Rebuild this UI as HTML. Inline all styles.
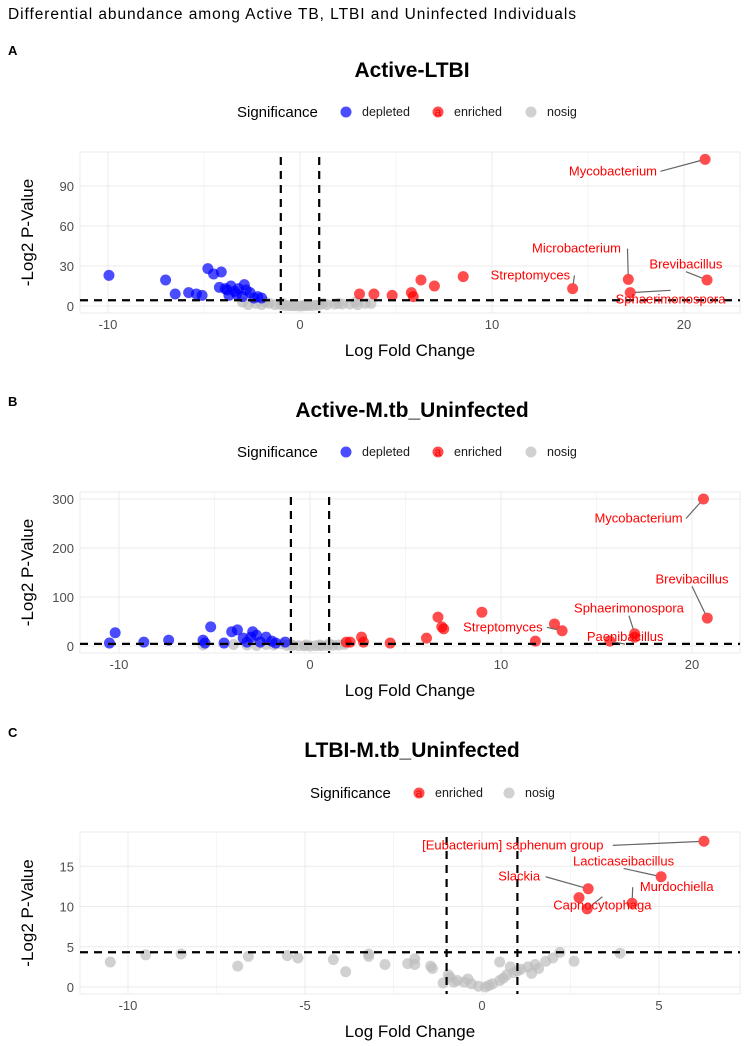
<!DOCTYPE html>
<html><head><meta charset="utf-8"><style>
html,body{margin:0;padding:0;background:#fff;}
svg{display:block;font-family:"Liberation Sans",Arial,sans-serif;}
</style></head><body>
<svg id="fig" width="748" height="1046" viewBox="0 0 748 1046" xmlns="http://www.w3.org/2000/svg">
<text x="8" y="19" font-size="15.5" fill="#000" textLength="568">Differential abundance among Active TB, LTBI and Uninfected Individuals</text>
</svg>
<script>
// ---------- Panel A data ----------
const aDepX=[-9.95,-7.0,-6.5,-5.8,-5.4,-5.1,-4.8,-4.5,-4.1,-4.2,-3.9,-3.6,-3.4,-3.2,-2.9,-2.8,-3.7,-3.3,-2.6,-2.2,-3.8,-3.0,-2.4,-2.0];
const aDepY=[23,19.5,9,10,9,8,28,24,25.5,14,13,15,11,13,16,12,8,9,10,7,12,7,6,6];
const aEnrX=[3.1,3.85,4.8,5.8,5.9,6.3,7.0,8.5,14.2,17.1,17.2,21.1,21.2];
const aEnrY=[9,9,8,10,7,19.5,15,22,13,20,10,110,19.5];
const aNsX=[-3.0,-2.7,-2.3,-2.0,-1.6,-1.3,-1.0,-0.8,-0.6,-0.4,-0.2,0,0.2,0.4,0.6,0.8,1.0,1.4,1.8,2.2,2.6,3.0,3.4,3.7,-1.8,-0.9,0.3,1.2,2.0,2.9];
const aNsY=[3,1,2,1,2,1,1,0.5,0.3,0.2,0.2,0,0.2,0.3,0.4,0.6,0.8,1,1.5,1.5,1.5,1,2,2,3,2,1,2,2,3];
const aLabNames=["Mycobacterium","Microbacterium","Brevibacillus","Streptomyces","Sphaerimonospora"];
const aLabPtX=[21.1,17.1,21.2,14.2,17.2];
const aLabPtY=[110,20,19.5,13,10];
const aLabX=[16.3,14.4,20.1,12.0,19.3];
const aLabY=[98,40,28,20,2];
const aXTicks=[-10,0,10,20];
const aYTicks=[0,30,60,90];
// ---------- Panel B data ----------
const bDepX=[-10.2,-10.5,-8.7,-7.4,-5.6,-5.5,-5.2,-4.5,-4.1,-3.8,-3.5,-3.0,-3.1,-2.3,-3.3,-2.6,-2.0,-1.3,-2.8,-1.8];
const bDepY=[27,6,8,12,12,6,39,6,29,33,16,29,18,18,8,8,10,8,22,6];
const bEnrX=[1.9,2.1,2.7,2.8,4.2,6.1,6.7,6.9,7.0,9.0,11.8,12.8,13.2,15.7,17.0,17.0,20.6,20.8];
const bEnrY=[8,8,18,8,6,16,59,39,35,69,10,45,31,10,18,25,300,57];
const bNsX=[-5.6,-4.0,-3.3,-2.8,-2.3,-1.9,-1.5,-1.2,-0.9,-0.6,-0.3,0,0.3,0.6,0.9,1.2,1.5,1.8,-1.0,0.5,-0.2,1.0];
const bNsY=[2,3,2,1,3,2,4,1,1,0.5,0.3,0,0.5,0.8,1,1.5,2,3,3,2,2,4];
const bLabNames=["Mycobacterium","Brevibacillus","Sphaerimonospora","Streptomyces","Paenibacillus"];
const bLabPtX=[20.6,20.8,17.0,13.2,15.7];
const bLabPtY=[300,57,25,31,10];
const bLabX=[17.2,20.0,16.7,10.1,16.5];
const bLabY=[252,128,68,30,10];
const bXTicks=[-10,0,10,20];
const bYTicks=[0,100,200,300];
// ---------- Panel C data ----------
const cEnrX=[6.27,5.06,3.0,2.74,2.97,4.24];
const cEnrY=[18.1,13.7,12.2,11.1,9.7,10.4];
const cNsX=[-10.5,-9.5,-8.5,-6.9,-6.6,-5.5,-5.2,-4.2,-3.85,-3.2,-3.2,-2.74,-2.1,-1.9,-1.9,-1.45,-1.4,-1.1,-0.9,-0.7,-0.5,-0.3,-0.1,0.1,0.3,0.5,0.7,0.9,1.1,1.3,-0.8,-0.4,0.2,0.6,1.0,1.5,1.8,2.0,2.2,2.6,3.9,0.5,1.6,1.4,-0.95,0.8];
const cNsY=[3.1,4.0,4.1,2.6,3.8,3.9,3.6,3.4,1.9,4.1,3.8,2.8,2.9,3.5,2.8,2.6,2.3,0.5,1.2,0.8,0.6,0.4,0.1,0,0.4,0.8,1.5,1.8,2.2,2.5,0.6,1.0,0.2,1.1,2.0,2.8,3.2,3.6,4.3,3.2,4.2,3.1,2.3,1.7,1.5,2.5];
const cLabNames=["[Eubacterium] saphenum group","Lacticaseibacillus","Slackia","Capnocytophaga","Murdochiella"];
const cLabPtX=[6.27,5.06,3.0,2.97,4.24];
const cLabPtY=[18.1,13.7,12.2,9.7,10.4];
const cLabX=[0.87,4.0,1.05,3.4,5.5];
const cLabY=[17.1,15.1,13.2,9.6,11.9];
const cXTicks=[-10,-5,0,5];
const cYTicks=[0,5,10,15];

const NS="http://www.w3.org/2000/svg";
const svg=document.getElementById('fig');
function mk(tag,attrs,parent){const e=document.createElementNS(NS,tag);for(const k in attrs)e.setAttribute(k,attrs[k]);(parent||svg).appendChild(e);return e;}
const BLUE="#0000ff",RED="#ff0000",GRAY="#bebebe";

function panel(P){
  const g=mk('g',{});
  
  
  const sx=v=>P.x0+P.kx*v, sy=v=>P.y0-P.ky*v;
  const L=80,R=740;
  const lt=mk('text',{x:8,y:P.letterY,'font-size':13,'font-weight':'bold'},g);lt.textContent=P.letter;
  
  
  const tt=mk('text',{x:412,y:P.titleY,'font-size':21,'font-weight':'bold','text-anchor':'middle'},g);tt.textContent=P.title;
  
  
  const lg=mk('g',{},g);
  
  
  const ly=P.legY;
  const lh=mk('text',{x:P.legX,y:ly+5,'font-size':15},lg);lh.textContent="Significance";
  let cx=P.legX+109;
  P.legItems.forEach(it=>{
    const c=mk('circle',{cx:cx,cy:ly,r:5.5,fill:it.c,'fill-opacity':0.7},lg);
    
    
    if(it.n==='enriched'){const a=mk('text',{x:cx,y:ly+4,'font-size':12,'text-anchor':'middle',fill:RED},lg);a.textContent='a';}
    const t=mk('text',{x:cx+16,y:ly+4,'font-size':12.5,fill:'#1a1a1a'},lg);t.textContent=it.n;
    
    
    cx+=it.w;
  });
  const grid=mk('g',{stroke:'#ebebeb','stroke-width':1},g);
  
  
  P.xt.forEach(v=>mk('line',{x1:sx(v),x2:sx(v),y1:P.top,y2:P.bot},grid));
  P.xt.slice(0,-1).forEach((v,i)=>{const m=(v+P.xt[i+1])/2;mk('line',{x1:sx(m),x2:sx(m),y1:P.top,y2:P.bot,'stroke-width':0.5},grid);});
  P.yt.forEach(v=>mk('line',{x1:L,x2:R,y1:sy(v),y2:sy(v)},grid));
  mk('rect',{x:L,y:P.top,width:R-L,height:P.bot-P.top,fill:'none',stroke:'#ebebeb'},g);
  P.xt.forEach(v=>{const t=mk('text',{x:sx(v),y:P.bot+16,'font-size':13,fill:'#4d4d4d','text-anchor':'middle'},g);t.textContent=v;
    
    });
  P.yt.forEach(v=>{const t=mk('text',{x:74,y:sy(v)+5,'font-size':13,fill:'#4d4d4d','text-anchor':'end'},g);t.textContent=v;
    
    });
  const xa=mk('text',{x:410,y:P.bot+43,'font-size':17,'text-anchor':'middle'},g);xa.textContent="Log Fold Change";
  
  
  const yc=(P.top+P.bot)/2;
  const ya=mk('text',{x:0,y:0,'font-size':17,'text-anchor':'middle',transform:`translate(33,${yc}) rotate(-90)`},g);ya.textContent="-Log2 P-Value";
  
  
  const pts=mk('g',{},g);
  
  
  const draw=(X,Y,col,nm)=>X.forEach((v,i)=>{const c=mk('circle',{cx:sx(v),cy:sy(Y[i]),r:5.5,fill:col,'fill-opacity':0.7},pts);
    
    });
  draw(P.nsX,P.nsY,GRAY,'nosig');
  if(P.depX)draw(P.depX,P.depY,BLUE,'depleted');
  draw(P.enrX,P.enrY,RED,'enriched');
  const dl=mk('g',{stroke:'#000','stroke-width':2.2,'stroke-dasharray':'8,6'},g);
  
  
  mk('line',{x1:sx(-1),x2:sx(-1),y1:P.top+5,y2:P.bot},dl);
  mk('line',{x1:sx(1),x2:sx(1),y1:P.top+5,y2:P.bot},dl);
  mk('line',{x1:L,x2:R,y1:sy(4.32),y2:sy(4.32)},dl);
  P.ln.forEach((n,i)=>{
    const tx=sx(P.lx[i]),ty=sy(P.ly[i]);
    const px=sx(P.lpx[i]),py=sy(P.lpy[i]);
    const hw=n.length*3.5;
    let x1=tx,y1=ty-4;
    if(px>tx+hw) x1=tx+hw+2; else if(px<tx-hw) x1=tx-hw-2;
    else { y1 = py<ty ? ty-13 : ty+3; }
    const dx=px-x1,dy=py-y1,d=Math.hypot(dx,dy);
    if(d>9){
      const ln=mk('line',{x1:x1,y1:y1,x2:px-dx/d*5,y2:py-dy/d*5,stroke:'#666','stroke-width':1.2},g);
      
      
    }
    const t=mk('text',{x:tx,y:ty,'font-size':13,fill:RED,'text-anchor':'middle'},g);t.textContent=n;
    
    
  });
}
panel({key:'active-ltbi',letter:'A',letterY:55,title:'Active-LTBI',titleY:77,legY:112,legX:237,
  legItems:[{n:'depleted',c:BLUE,w:92},{n:'enriched',c:RED,w:93},{n:'nosig',c:GRAY,w:80}],
  x0:300,kx:19.2,y0:306,ky:40/30,top:152,bot:313,xt:aXTicks,yt:aYTicks,
  depX:aDepX,depY:aDepY,enrX:aEnrX,enrY:aEnrY,nsX:aNsX,nsY:aNsY,
  ln:aLabNames,lx:aLabX,ly:aLabY,lpx:aLabPtX,lpy:aLabPtY});
panel({key:'active-uninfected',letter:'B',letterY:406,title:'Active-M.tb_Uninfected',titleY:417,legY:452,legX:237,
  legItems:[{n:'depleted',c:BLUE,w:92},{n:'enriched',c:RED,w:93},{n:'nosig',c:GRAY,w:80}],
  x0:310,kx:19.1,y0:646,ky:0.49,top:492,bot:653,xt:bXTicks,yt:bYTicks,
  depX:bDepX,depY:bDepY,enrX:bEnrX,enrY:bEnrY,nsX:bNsX,nsY:bNsY,
  ln:bLabNames,lx:bLabX,ly:bLabY,lpx:bLabPtX,lpy:bLabPtY});
panel({key:'ltbi-uninfected',letter:'C',letterY:737,title:'LTBI-M.tb_Uninfected',titleY:757,legY:793,legX:310,
  legItems:[{n:'enriched',c:RED,w:90},{n:'nosig',c:GRAY,w:80}],
  x0:482,kx:35.4,y0:987,ky:8.05,top:832,bot:994,xt:cXTicks,yt:cYTicks,
  enrX:cEnrX,enrY:cEnrY,nsX:cNsX,nsY:cNsY,
  ln:cLabNames,lx:cLabX,ly:cLabY,lpx:cLabPtX,lpy:cLabPtY});
</script>
</body></html>
